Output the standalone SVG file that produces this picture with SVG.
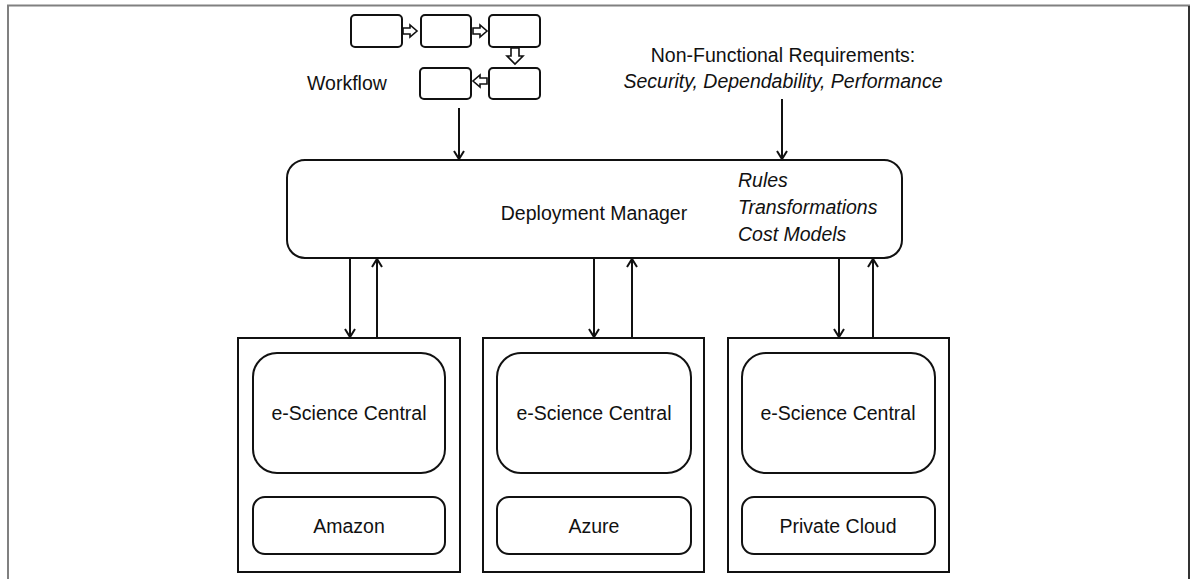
<svg xmlns="http://www.w3.org/2000/svg" width="1197" height="579" viewBox="0 0 1197 579">
<style>
.t{font-family:"Liberation Sans",Arial,sans-serif;font-size:19.5px;fill:#111;}
.i{font-style:italic;}
.box{fill:#fff;stroke:#111;stroke-width:2;}
.wf{fill:#fff;stroke:#111;stroke-width:2;}
.ha{fill:#fff;stroke:#111;stroke-width:1.6;stroke-linejoin:miter;}
.con{stroke:#111;stroke-width:2;fill:none;marker-end:url(#ah);}
</style>
<defs>
<marker id="ah" markerWidth="12" markerHeight="12" refX="9" refY="6" orient="auto" markerUnits="userSpaceOnUse">
<path d="M1,1 L9,6 L1,11" fill="none" stroke="#111" stroke-width="2"/>
</marker>
</defs>
<rect width="1197" height="579" fill="#fff"/>
<g id="frame">
<line x1="7" y1="5.5" x2="1190" y2="5.5" stroke="#808080" stroke-width="2"/>
<line x1="8" y1="5" x2="8" y2="579" stroke="#808080" stroke-width="2"/>
<line x1="1189" y1="6" x2="1189" y2="579" stroke="#333" stroke-width="2"/>
</g>
<g id="workflow">
<rect class="wf" x="351" y="15" width="51" height="32" rx="4"/>
<rect class="wf" x="421" y="15" width="50" height="32" rx="4"/>
<rect class="wf" x="489" y="15" width="51" height="32" rx="4"/>
<rect class="wf" x="420" y="68" width="51" height="31" rx="4"/>
<rect class="wf" x="489" y="68" width="51" height="31" rx="4"/>
<path class="ha" d="M403,28 L410,28 L410,25 L417,31 L410,37 L410,34 L403,34 Z"/>
<path class="ha" d="M473,28 L480,28 L480,25 L487,31 L480,37 L480,34 L473,34 Z"/>
<path class="ha" d="M511,48 L519,48 L519,56 L523,56 L515,64 L507,56 L511,56 Z"/>
<path class="ha" d="M487,78 L480,78 L480,75 L473,81 L480,87 L480,84 L487,84 Z"/>
<text class="t" x="307" y="90">Workflow</text>
</g>
<g id="nfr">
<text class="t" x="783" y="62" text-anchor="middle">Non-Functional Requirements:</text>
<text class="t i" x="783" y="88" text-anchor="middle">Security, Dependability, Performance</text>
</g>
<g id="deployment-manager">
<rect class="box" x="287" y="160" width="615" height="98" rx="18"/>
<text class="t" x="594" y="220" text-anchor="middle">Deployment Manager</text>
<text class="t i" x="738" y="187">Rules</text>
<text class="t i" x="738" y="214">Transformations</text>
<text class="t i" x="738" y="241">Cost Models</text>
</g>
<g id="amazon">
<rect class="box" x="238" y="338" width="222" height="234"/>
<rect class="box" x="253" y="353" width="192" height="120" rx="24"/>
<text class="t" x="349" y="420" text-anchor="middle">e-Science Central</text>
<rect class="box" x="253" y="497" width="192" height="57" rx="12"/>
<text class="t" x="349" y="533" text-anchor="middle">Amazon</text>
</g>
<g id="azure">
<rect class="box" x="483" y="338" width="221" height="234"/>
<rect class="box" x="497" y="353" width="194" height="120" rx="24"/>
<text class="t" x="594" y="420" text-anchor="middle">e-Science Central</text>
<rect class="box" x="497" y="497" width="194" height="57" rx="12"/>
<text class="t" x="594" y="533" text-anchor="middle">Azure</text>
</g>
<g id="private-cloud">
<rect class="box" x="728" y="338" width="221" height="234"/>
<rect class="box" x="742" y="353" width="193" height="120" rx="24"/>
<text class="t" x="838" y="420" text-anchor="middle">e-Science Central</text>
<rect class="box" x="742" y="497" width="193" height="57" rx="12"/>
<text class="t" x="838" y="533" text-anchor="middle">Private Cloud</text>
</g>
<g id="connectors">
<line class="con" x1="459" y1="108" x2="459" y2="159"/>
<line class="con" x1="782" y1="99" x2="782" y2="159"/>
<line class="con" x1="350" y1="259" x2="350" y2="337"/>
<line class="con" x1="377" y1="338" x2="377" y2="259"/>
<line class="con" x1="594" y1="259" x2="594" y2="337"/>
<line class="con" x1="632" y1="338" x2="632" y2="259"/>
<line class="con" x1="839" y1="259" x2="839" y2="337"/>
<line class="con" x1="873" y1="338" x2="873" y2="259"/>
</g>
</svg>
